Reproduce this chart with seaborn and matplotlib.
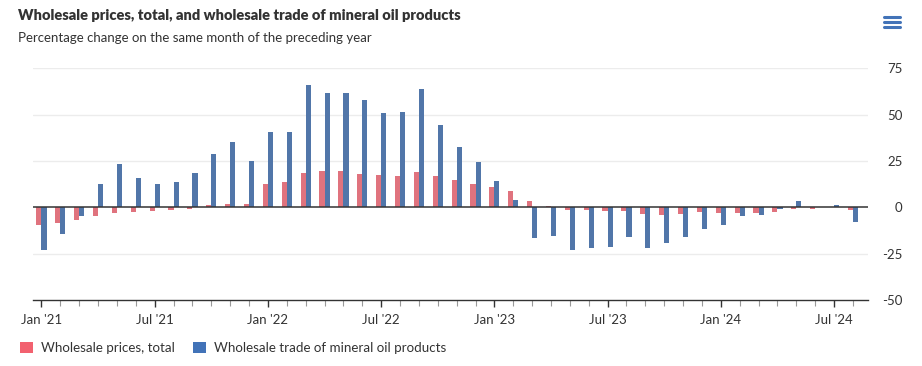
import matplotlib
matplotlib.use("Agg")
import matplotlib.pyplot as plt
import seaborn as sns
import pandas as pd
from matplotlib.lines import Line2D
from matplotlib.patches import Patch

# monthly data, Jan 2021 - Aug 2024
months = pd.date_range("2021-01-01", periods=44, freq="MS").strftime("%Y-%m").tolist()

wholesale_prices = [-9.8, -8.2, -6.6, -4.5, -2.9, -2.3, -1.8, -1.3, -0.7, 1.4, 2.0, 2.0,
                    12.5, 13.6, 18.4, 19.5, 19.5, 17.9, 17.3, 16.8, 18.9, 16.8, 14.6, 12.5,
                    10.9, 8.8, 3.4, 0.9, -1.4, -1.4, -2.0, -2.0, -3.6, -4.1, -3.6, -2.5,
                    -3.0, -3.0, -3.0, -2.5, -0.7, -0.7, 0.0, -1.4]
mineral_oil = [-23.2, -14.6, -4.5, 12.5, 23.2, 15.7, 12.5, 13.6, 18.4, 28.6, 35.0, 24.8,
               40.4, 40.9, 66.1, 61.8, 61.8, 58.0, 51.1, 51.6, 63.9, 44.6, 32.3, 24.3,
               14.1, 3.9, -16.4, -15.4, -22.9, -21.8, -21.3, -15.9, -21.8, -19.1, -15.9, -11.6,
               -9.5, -4.6, -4.1, -0.9, 3.4, 0.0, 1.3, -7.9]

series_names = ["Wholesale prices, total", "Wholesale trade of mineral oil products"]
tick_labels = ["Jan '21", "Jul '21", "Jan '22", "Jul '22", "Jan '23", "Jul '23", "Jan '24", "Jul '24"]
y_ticks = [-50, -25, 0, 25, 50, 75]

red = "#f2616f"
blue = "#4273b8"
text_col = "#333333"

df = pd.DataFrame({
    "month": months * 2,
    "value": wholesale_prices + mineral_oil,
    "series": [series_names[0]] * len(months) + [series_names[1]] * len(months),
})

sns.set_style("white")
plt.rcParams["font.family"] = ["Lato", "DejaVu Sans"]

fig = plt.figure(figsize=(9.22, 3.66), dpi=100)
ax = fig.add_axes([33 / 922, 1 - 300 / 366, (868 - 33) / 922, (300 - 68.3) / 366])

sns.barplot(data=df, x="month", y="value", hue="series", order=months,
            hue_order=series_names, palette=[red, blue], width=0.54, gap=0,
            linewidth=0, legend=False, ax=ax)

ax.set_xlim(-0.45, 43.8)
ax.set_ylim(-50, 75)

# grid and zero line
for v in y_ticks:
    if v == -50:
        continue
    ax.axhline(v, color="#ececec" if v != 0 else text_col, lw=1.0 if v else 1.1,
               zorder=0 if v else 3)

for s in ["top", "left", "right"]:
    ax.spines[s].set_visible(False)
ax.spines["bottom"].set_color(text_col)
ax.spines["bottom"].set_linewidth(1.0)

# y axis on the right
ax.yaxis.tick_right()
ax.set_yticks(y_ticks)
ax.set_yticklabels([str(v) for v in y_ticks], ha="right")
ax.tick_params(axis="y", length=0, pad=25, labelsize=9.5, labelcolor=text_col)

# x ticks: every month minor, Jan/Jul major
ax.set_xticks(range(len(months)), minor=True)
ax.set_xticks(range(0, len(months), 6))
ax.set_xticklabels(tick_labels)
ax.tick_params(axis="x", which="major", length=5, width=1, color=text_col,
               labelsize=9.5, labelcolor=text_col, pad=5, bottom=True)
ax.tick_params(axis="x", which="minor", length=4, width=0.8, color="#999999", bottom=True)
ax.set_xlabel("")
ax.set_ylabel("")

# titles
fig.text(18 / 922, 1 - 16 / 366, "Wholesale prices, total, and wholesale trade of mineral oil products",
         fontsize=10.5, fontweight="heavy", color=text_col, va="center")
fig.text(18 / 922, 1 - 38 / 366, "Percentage change on the same month of the preceding year",
         fontsize=9.5, color=text_col, va="center")

# menu icon
for yy in [17, 22, 27]:
    fig.add_artist(Line2D([884 / 922, 900 / 922], [1 - yy / 366] * 2, color=blue, lw=2.2,
                          transform=fig.transFigure))

handles = [Patch(facecolor=red, edgecolor="none"), Patch(facecolor=blue, edgecolor="none")]
fig.legend(handles, series_names, loc="center left", bbox_to_anchor=(8 / 922, 1 - 348 / 366),
           ncol=2, frameon=False, fontsize=9.6, handlelength=0.95, handleheight=0.95,
           handletextpad=0.6, columnspacing=1.4, labelcolor=text_col)

fig.savefig("out.png", dpi=100, facecolor="white")
